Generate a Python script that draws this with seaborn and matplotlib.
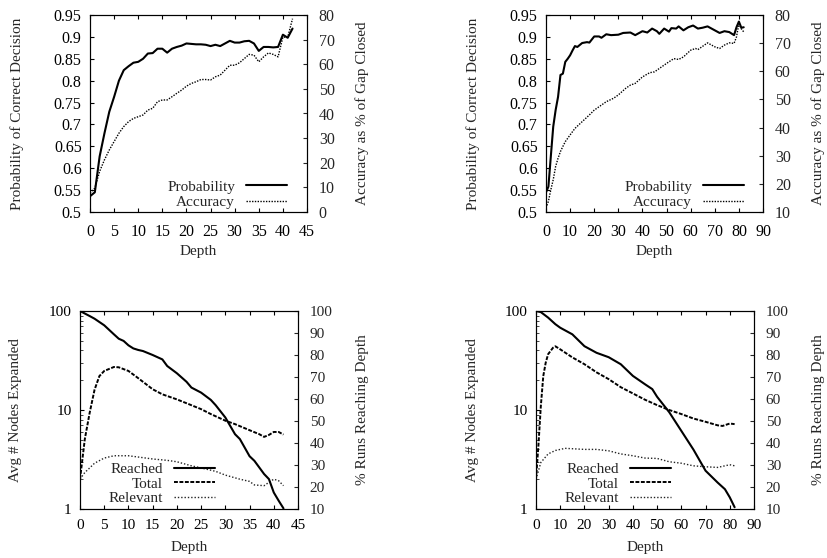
import numpy as np
import matplotlib
matplotlib.use('Agg')
import matplotlib.pyplot as plt
import seaborn as sns
from matplotlib.ticker import LogLocator, NullFormatter

# --- top left: depth limit 42 ---
tl_depth = list(range(0, 43))
tl_prob = [0.536, 0.545, 0.627, 0.680, 0.729, 0.763, 0.800, 0.824, 0.833, 0.841,
           0.843, 0.850, 0.862, 0.863, 0.873, 0.873, 0.864, 0.873, 0.877, 0.880,
           0.885, 0.884, 0.883, 0.883, 0.882, 0.879, 0.882, 0.879, 0.885, 0.891,
           0.887, 0.887, 0.890, 0.891, 0.885, 0.868, 0.877, 0.877, 0.876, 0.877,
           0.905, 0.898, 0.919]
tl_acc = [7.7, 9.7, 16.5, 21.2, 25.2, 28.6, 32.0, 34.7, 36.7, 38.0,
          38.7, 39.4, 41.4, 42.1, 44.8, 45.5, 45.5, 46.8, 48.2, 49.5,
          51.1, 52.2, 52.9, 53.8, 53.8, 53.6, 54.9, 55.6, 57.6, 59.6,
          59.6, 60.6, 62.3, 64.0, 63.7, 61.0, 63.0, 64.6, 64.0, 63.0,
          71.0, 71.0, 78.5]

# --- top right: depth limit 82 ---
tr_prob_depth = [0, 1, 2, 3, 4, 5, 6, 7, 8, 9, 10, 11, 12, 13, 15, 17, 18, 20, 22, 23,
                 25, 27, 30, 32, 35, 37, 40, 42, 44, 46, 47, 49, 51, 52, 54, 55, 57, 59,
                 61, 63, 65, 67, 70, 72, 74, 76, 78, 79, 80, 81, 82]
tr_prob = [0.545, 0.558, 0.627, 0.695, 0.733, 0.763, 0.813, 0.816, 0.843, 0.850,
           0.858, 0.869, 0.879, 0.877, 0.886, 0.888, 0.887, 0.901, 0.901, 0.898,
           0.906, 0.904, 0.905, 0.909, 0.910, 0.904, 0.913, 0.910, 0.919, 0.913,
           0.907, 0.919, 0.912, 0.920, 0.919, 0.924, 0.915, 0.922, 0.926, 0.919,
           0.921, 0.924, 0.915, 0.909, 0.913, 0.911, 0.904, 0.922, 0.935, 0.921,
           0.922]
tr_acc_depth = [0, 1, 2, 3, 4, 5, 6, 7, 8, 10, 12, 15, 18, 20, 22, 25, 28, 30, 33, 35,
                37, 40, 43, 45, 48, 50, 53, 55, 57, 60, 62, 63, 65, 67, 70, 72, 74, 76,
                78, 79, 80, 81, 82]
tr_acc = [11.4, 13.8, 17.9, 21.5, 26.2, 29.1, 31.5, 33.3, 35.0, 37.4,
          39.7, 42.1, 44.5, 46.2, 47.4, 49.2, 50.4, 51.6, 53.9, 55.1,
          55.7, 58.0, 59.5, 59.8, 61.6, 62.8, 64.5, 64.2, 65.1, 67.5,
          68.1, 67.7, 68.9, 70.1, 68.7, 68.1, 69.3, 70.1, 69.9, 72.2,
          76.9, 75.1, 74.0]

# --- bottom left: depth limit 42 ---
bl_reach_depth = [0, 2, 3, 5, 7, 8, 9, 10, 11, 12, 13, 15, 17, 18, 20, 22, 23, 25, 27, 28,
                  30, 32, 33, 35, 36, 37, 38, 39, 40, 41, 42]
bl_reached = [100, 97.7, 96.5, 93.5, 89.4, 87.4, 86.4, 84.4, 83.0, 82.3,
              81.8, 80.0, 78.0, 75.0, 71.7, 67.8, 65.2, 62.9, 59.6, 57.2,
              51.6, 44.0, 41.8, 34.0, 31.9, 28.9, 25.9, 23.6, 17.5, 13.8,
              10.3]
bl_node_depth = [0, 1, 2, 3, 4, 5, 7, 8, 10, 12, 15, 17, 20, 22, 25, 27, 30, 32, 35, 37,
                 38, 39, 40, 41, 42]
bl_total = [2.0, 5.1, 9.4, 16.0, 22.0, 24.8, 27.2, 27.0, 24.8, 21.0,
            16.2, 14.4, 12.8, 11.7, 10.2, 9.1, 7.8, 7.2, 6.25, 5.7,
            5.35, 5.6, 6.0, 6.0, 5.65]
bl_rel_depth = [0, 1, 2, 3, 5, 7, 10, 13, 15, 18, 20, 23, 25, 28, 30, 33, 35, 36, 38, 39,
                40, 41, 42]
bl_relevant = [2.0, 2.34, 2.6, 2.9, 3.27, 3.45, 3.45, 3.3, 3.2, 3.1,
               3.0, 2.73, 2.6, 2.4, 2.2, 2.0, 1.9, 1.75, 1.72, 1.86,
               2.0, 1.93, 1.72]

# --- bottom right: depth limit 82 ---
br_reach_depth = [0, 2, 5, 8, 10, 15, 20, 25, 30, 35, 40, 45, 48, 50, 55, 60, 65, 70, 75, 78,
                  80, 82]
br_reached = [100, 99.5, 97.0, 94.0, 92.4, 89.4, 84.0, 81.0, 79.0, 75.8,
              70.5, 66.7, 64.5, 61.0, 54.0, 45.5, 37.0, 27.4, 22.0, 19.0,
              15.3, 10.8]
br_node_depth = [0, 1, 2, 3, 4, 5, 7, 8, 10, 15, 20, 25, 30, 35, 40, 45, 50, 55, 60, 65,
                 70, 75, 77, 80, 82]
br_total = [2.0, 4.4, 11.0, 22.0, 30.0, 36.6, 42.5, 44.0, 41.0, 34.0,
            29.0, 24.0, 20.5, 17.0, 14.7, 12.7, 11.2, 10.0, 9.1, 8.2,
            7.6, 7.0, 6.9, 7.3, 7.2]
br_rel_depth = [0, 2, 5, 8, 12, 20, 25, 30, 35, 40, 45, 50, 55, 60, 65, 70, 75, 80, 82]
br_relevant = [2.0, 2.95, 3.6, 3.9, 4.1, 4.0, 4.0, 3.87, 3.6, 3.45,
               3.27, 3.24, 3.0, 2.9, 2.73, 2.67, 2.63, 2.8, 2.73]

sns.set_style('ticks')
plt.rcParams['font.family'] = ['Liberation Serif', 'DejaVu Serif']
plt.rcParams['font.size'] = 11
plt.rcParams['axes.linewidth'] = 0.8

fig = plt.figure(figsize=(8.28, 5.58), dpi=100)

W, H = 828, 558
def px_axes(x0, y0, x1, y1):
    return fig.add_axes([x0 / W, 1 - y1 / H, (x1 - x0) / W, (y1 - y0) / H])

solid = dict(color='black', lw=1.5, linestyle='-')
fine_dot = dict(color='black', lw=1.0, linestyle=(0, (1, 1)))
dash = dict(color='black', lw=1.4, linestyle=(0, (2, 0.8)))
rel_dot = dict(color='#222222', lw=1.0, linestyle=(0, (1, 1.4)))

def style_axes(ax, ax2, size, xpad):
    ax.tick_params(axis='x', direction='in', length=3, width=0.8, top=True,
                   colors='black', labelsize=size, pad=xpad)
    ax.tick_params(axis='y', direction='in', length=3, width=0.8, right=False,
                   colors='black', labelsize=size, pad=6)
    ax.tick_params(which='minor', direction='in', length=1.8, width=0.6, right=False)
    ax2.tick_params(direction='in', length=3, width=0.8, right=True, left=False,
                    top=False, bottom=False, labelsize=size, pad=8.5)
    for a in (ax, ax2):
        for sp in a.spines.values():
            sp.set_visible(True)
            sp.set_color('black')

def add_ylabels(ax, ax2, left, right, lx, rx, cy, x0, x1, y0, y1):
    ax.set_ylabel(left, ha='center', va='center')
    ax.yaxis.set_label_coords((lx - x0) / (x1 - x0), (y1 - cy) / (y1 - y0))
    ax2.set_ylabel(right, ha='center', va='center', rotation=90)
    ax2.yaxis.set_label_coords((rx - x0) / (x1 - x0), (y1 - cy) / (y1 - y0))

def add_xlabel(ax, cx, cy, x0, x1, y0, y1):
    ax.set_xlabel('Depth', ha='center', va='center')
    ax.xaxis.set_label_coords((cx - x0) / (x1 - x0), (y1 - cy) / (y1 - y0))

# ---------------- top row ----------------
top_boxes = [(90, 15, 307, 212, 45, 5, tl_depth, tl_prob, tl_depth, tl_acc, 0, 17, 362, 0.908),
             (546, 15, 763, 212, 90, 10, tr_prob_depth, tr_prob, tr_acc_depth, tr_acc, 10, 473, 818, 0.912)]
for x0, y0, x1, y1, xmax, xstep, pd_, pv, ad, av, rmin, lx, rx, legx in top_boxes:
    ax = px_axes(x0, y0, x1, y1)
    ax2 = ax.twinx()
    sns.lineplot(x=pd_, y=pv, ax=ax, legend=False, label='Probability', **solid)
    sns.lineplot(x=ad, y=av, ax=ax2, legend=False, label='Accuracy', **fine_dot)
    ax.set_xlim(0, xmax)
    ax.set_xticks(np.arange(0, xmax + 1, xstep))
    ax.set_ylim(0.5, 0.95)
    ax.set_yticks(np.arange(0.5, 0.951, 0.05))
    ax.set_yticklabels(['0.5', '0.55', '0.6', '0.65', '0.7', '0.75', '0.8', '0.85', '0.9', '0.95'])
    ax2.set_ylim(rmin, 80)
    ax2.set_yticks(np.arange(rmin, 81, 10))
    style_axes(ax, ax2, 11.5, 9)
    add_ylabels(ax, ax2, 'Probability of Correct Decision', 'Accuracy as % of Gap Closed',
                lx, rx, (y0 + y1) / 2, x0, x1, y0, y1)
    add_xlabel(ax, (x0 + x1) / 2, 252, x0, x1, y0, y1)
    handles = ax.get_lines() + ax2.get_lines()
    ax2.legend(handles, [h.get_label() for h in handles], loc='lower right',
               bbox_to_anchor=(legx, 0.015), frameon=False, borderpad=0, borderaxespad=0,
               markerfirst=False, handlelength=2.7, handletextpad=0.7, labelspacing=0.1,
               fontsize=11)

# ---------------- bottom row ----------------
bot_boxes = [(80, 311, 298, 509, 45, 5, bl_reach_depth, bl_reached, bl_node_depth, bl_total,
              bl_rel_depth, bl_relevant, 16, 363),
             (536, 311, 754, 509, 90, 10, br_reach_depth, br_reached, br_node_depth, br_total,
              br_rel_depth, br_relevant, 473, 819)]
for x0, y0, x1, y1, xmax, xstep, rd, rv, nd, tv, vd, vv, lx, rx in bot_boxes:
    ax = px_axes(x0, y0, x1, y1)
    ax2 = ax.twinx()
    sns.lineplot(x=rd, y=rv, ax=ax2, legend=False, label='Reached', **solid)
    sns.lineplot(x=nd, y=tv, ax=ax, legend=False, label='Total', **dash)
    sns.lineplot(x=vd, y=vv, ax=ax, legend=False, label='Relevant', **rel_dot)
    ax.set_yscale('log')
    ax.set_ylim(1, 100)
    ax.set_yticks([1, 10, 100])
    ax.set_yticklabels(['1', '10', '100'])
    ax.yaxis.set_minor_locator(LogLocator(base=10, subs=np.arange(2, 10)))
    ax.yaxis.set_minor_formatter(NullFormatter())
    ax.set_xlim(0, xmax)
    ax.set_xticks(np.arange(0, xmax + 1, xstep))
    ax2.set_ylim(10, 100)
    ax2.set_yticks(np.arange(10, 101, 10))
    style_axes(ax, ax2, 11, 7.5)
    add_ylabels(ax, ax2, 'Avg # Nodes Expanded', '% Runs Reaching Depth',
                lx, rx, (y0 + y1) / 2, x0, x1, y0, y1)
    add_xlabel(ax, (x0 + x1) / 2, 548, x0, x1, y0, y1)
    handles = ax2.get_lines() + ax.get_lines()
    ax2.legend(handles, [h.get_label() for h in handles], loc='lower right',
               bbox_to_anchor=(0.619, 0.02), frameon=False, borderpad=0, borderaxespad=0,
               markerfirst=False, handlelength=2.7, handletextpad=0.7, labelspacing=0.05,
               fontsize=11)

fig.savefig('out.png', dpi=100)
plt.close(fig)
